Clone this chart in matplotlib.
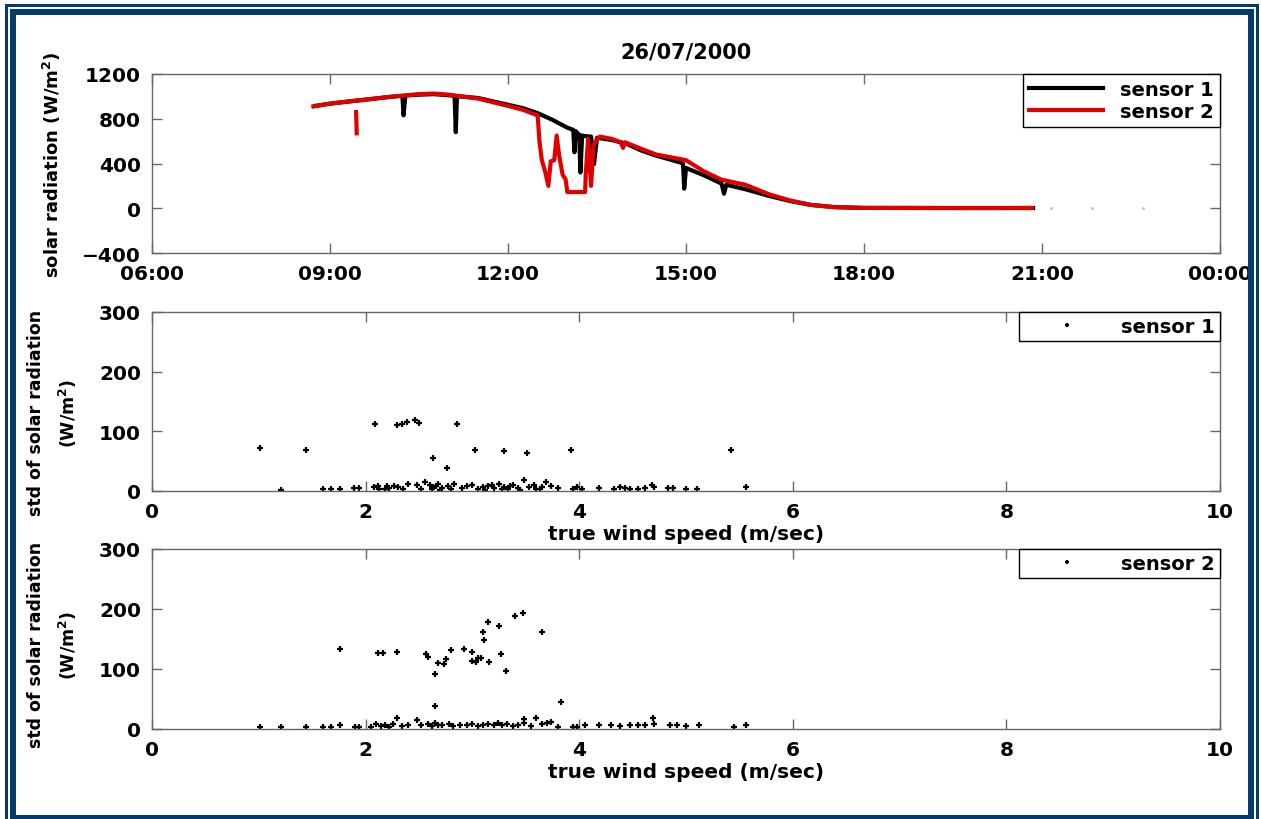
import matplotlib
matplotlib.use("Agg")
import matplotlib.pyplot as plt
from matplotlib.patches import Rectangle
from matplotlib.ticker import FuncFormatter

# --- top panel: solar radiation time series (hours of day, W/m^2) ---
s1_time = [8.75, 9.0, 9.5, 10.0, 10.2, 10.22, 10.24, 10.27, 10.5, 10.75, 11.0, 11.1,
           11.12, 11.14, 11.5, 12.0, 12.25, 12.5, 12.75, 13.0, 13.08, 13.1, 13.12,
           13.14, 13.18, 13.2, 13.22, 13.25, 13.3, 13.4, 13.45, 13.5, 13.75, 14.0,
           14.25, 14.5, 14.9, 14.95, 14.97, 15.0, 15.3, 15.6, 15.64, 15.68, 16.0,
           16.4, 16.75, 17.1, 17.5, 18.0, 19.0, 20.0, 20.85]
s1_vals = [915, 935, 965, 995, 1005, 1002, 830, 1008, 1015, 1020, 1010, 1005,
           680, 1002, 985, 925, 895, 850, 790, 720, 705, 700, 500,
           690, 665, 660, 320, 650, 645, 640, 395, 630, 610, 575,
           515, 470, 410, 400, 175, 360, 295, 220, 130, 210, 170,
           110, 65, 30, 10, 3, 2, 2, 2]

s2_time = [8.72, 9.0, 9.4, 9.5, 10.0, 10.5, 10.75, 11.0, 11.5, 12.0, 12.25, 12.5,
           12.53, 12.57, 12.63, 12.68, 12.72, 12.78, 12.82, 12.86, 12.92, 12.97,
           13.0, 13.3, 13.31, 13.35, 13.4, 13.44, 13.5, 13.55, 13.75, 13.9, 13.94,
           13.97, 14.25, 14.5, 15.0, 15.3, 15.6, 16.0, 16.4, 16.75, 17.1, 17.5,
           18.0, 19.0, 20.0, 20.83]
s2_vals = [910, 935, 960, 965, 995, 1020, 1025, 1015, 980, 915, 880, 830,
           600, 430, 320, 200, 420, 430, 650, 480, 300, 260,
           145, 145, 300, 620, 200, 560, 620, 640, 620, 590, 540,
           590, 530, 480, 430, 330, 255, 210, 125, 70, 30, 10,
           3, 3, 2, 3]

# isolated dim samples after sunset
s1_tail_time = [21.15, 21.85, 22.7]
s1_tail_vals = [0, 0, 0]

s2_cut_time = [9.44, 9.45]
s2_cut_vals = [860, 670]

# --- std of solar radiation vs true wind speed ---
s1_wind = [1.01, 1.44, 1.21, 2.09, 2.29, 2.34, 2.39, 2.46, 2.50, 2.86, 2.63, 2.76,
           3.02, 3.30, 3.51, 3.92, 5.42, 5.56,
           1.60, 1.68, 1.76, 1.89, 1.94, 2.08, 2.13, 2.18, 2.22, 2.27, 2.30, 2.40,
           2.48, 2.56, 2.60, 2.63, 2.66, 2.72, 2.77, 2.83, 2.90, 3.00, 3.05, 3.10,
           3.15, 3.20, 3.25, 3.30, 3.33, 3.38, 3.43, 3.48, 3.53, 3.58, 3.63, 3.69,
           3.74, 3.80, 3.94, 3.98, 4.03, 4.19, 4.33, 4.38, 4.43, 4.48, 4.55, 4.62,
           4.68, 4.70, 4.83, 4.88, 5.00, 5.10, 2.62, 2.68, 2.70, 2.80, 2.95, 3.12,
           3.18, 3.28, 3.35, 2.52, 2.35, 2.20, 2.12, 3.45, 3.60, 3.65]
s1_std = [72, 69, 2, 112, 110, 112, 116, 119, 114, 112, 56, 38,
          68, 67, 64, 68, 68, 6,
          4, 3, 3, 5, 5, 6, 4, 3, 5, 8, 6, 12,
          10, 15, 10, 6, 8, 5, 8, 12, 5, 10, 4, 6,
          8, 5, 12, 6, 3, 10, 5, 18, 6, 10, 4, 15,
          8, 5, 4, 7, 3, 5, 3, 6, 5, 4, 3, 5,
          10, 6, 5, 5, 3, 4, 3, 12, 2, 3, 8, 2,
          10, 3, 8, 4, 3, 8, 9, 2, 3, 7]

s2_wind = [1.76, 2.12, 2.16, 2.29, 2.57, 2.58, 2.68, 2.73, 2.75, 2.65, 2.80, 2.92,
           3.00, 3.00, 3.03, 3.05, 3.08, 3.10, 3.11, 3.15, 3.16, 3.25, 3.27, 3.31,
           3.40, 3.47, 3.65, 2.65, 3.83,
           1.01, 1.21, 1.44, 1.60, 1.68, 1.76, 1.90, 1.94, 2.05, 2.10, 2.14, 2.18,
           2.22, 2.26, 2.29, 2.34, 2.40, 2.48, 2.52, 2.58, 2.62, 2.65, 2.68, 2.72,
           2.78, 2.82, 2.88, 2.95, 3.00, 3.05, 3.10, 3.15, 3.20, 3.24, 3.28, 3.32,
           3.38, 3.43, 3.48, 3.48, 3.55, 3.60, 3.65, 3.70, 3.74, 3.80, 3.94, 3.98,
           4.05, 4.19, 4.30, 4.38, 4.48, 4.55, 4.62, 4.69, 4.70, 4.85, 4.92, 5.00,
           5.12, 5.45, 5.56]
s2_std = [134, 127, 127, 128, 125, 120, 110, 108, 117, 92, 132, 134,
          129, 113, 112, 119, 119, 161, 148, 179, 112, 172, 125, 97,
          189, 193, 161, 38, 45,
          3, 3, 3, 4, 3, 7, 4, 4, 4, 8, 5, 7,
          4, 8, 18, 5, 7, 15, 6, 8, 5, 10, 7, 6,
          9, 5, 7, 6, 9, 5, 7, 8, 6, 10, 7, 9,
          5, 6, 17, 10, 5, 18, 8, 10, 12, 4, 4, 4,
          6, 7, 6, 5, 6, 7, 6, 18, 8, 7, 6, 5,
          6, 4, 7]

time_ticks = [6, 9, 12, 15, 18, 21, 24]
wind_ticks = [0, 2, 4, 6, 8, 10]

W, H = 1261, 820
navy = "#063a6e"
spine_gray = "#666666"

plt.rcParams["font.family"] = "DejaVu Sans"
plt.rcParams["font.weight"] = "bold"
plt.rcParams["axes.labelweight"] = "bold"
plt.rcParams["mathtext.default"] = "bf"

fig = plt.figure(figsize=(W / 100, H / 100), dpi=100)
fig.patch.set_facecolor("white")


def style_axes(ax):
    for s in ax.spines.values():
        s.set_color(spine_gray)
        s.set_linewidth(1.0)
    ax.tick_params(direction="in", length=7, width=1, colors=spine_gray,
                   top=True, right=True, labelsize=14.5, pad=8)
    for lab in ax.get_xticklabels() + ax.get_yticklabels():
        lab.set_color("black")
        lab.set_fontweight("bold")


# top panel
ax1 = fig.add_axes([152 / W, 1 - 254 / H, (1220 - 152) / W, (254 - 75) / H])
ax1.plot(s1_time, s1_vals, color="black", lw=3, label="sensor 1")
ax1.plot(s2_time, s2_vals, color="#e00000", lw=3, label="sensor 2")
ax1.plot(s2_cut_time, s2_cut_vals, color="#e00000", lw=3)
ax1.plot(s1_tail_time, s1_tail_vals, ls="none", marker=".", ms=2, color="#bbbbbb")
ax1.set_xlim(6, 24)
ax1.set_ylim(-400, 1200)
ax1.set_xticks(time_ticks)
ax1.set_yticks([-400, 0, 400, 800, 1200])
ax1.xaxis.set_major_formatter(FuncFormatter(lambda v, p: "%02d:00" % (int(v) % 24)))
ax1.set_ylabel("solar radiation (W/m$^2$)", fontsize=13)
ax1.yaxis.set_label_coords(-0.083, 0.5)
ax1.set_title("26/07/2000", fontsize=15, fontweight="bold", pad=12)
style_axes(ax1)
leg = ax1.legend(loc="upper right", bbox_to_anchor=(1, 1), borderaxespad=0,
                 fontsize=14, handlelength=3.8, handletextpad=0.9, borderpad=0.3,
                 labelspacing=0.15, fancybox=False, framealpha=1)
leg.get_frame().set_edgecolor("black")
leg.get_frame().set_linewidth(1)

# scatter panels
panels = [(492, 313, s1_wind, s1_std, "sensor 1", 0.44),
          (730, 550, s2_wind, s2_std, "sensor 2", 0.47)]
for ybot, ytop, xs, ys, name, ly in panels:
    ax = fig.add_axes([152 / W, 1 - ybot / H, (1220 - 152) / W, (ybot - ytop) / H])
    ax.plot(xs, ys, ls="none", marker="+", ms=5, mew=1.6, color="black", label=name)
    ax.set_xlim(0, 10)
    ax.set_ylim(0, 300)
    ax.set_xticks(wind_ticks)
    ax.set_yticks([0, 100, 200, 300])
    ax.set_xlabel("true wind speed (m/sec)", fontsize=14.5, labelpad=2)
    ax.set_ylabel("std of solar radiation\n(W/m$^2$)", fontsize=12.5, linespacing=1.7)
    ax.yaxis.set_label_coords(-0.068, ly)
    style_axes(ax)
    lg = ax.legend(loc="upper right", bbox_to_anchor=(1, 1), borderaxespad=0,
                   fontsize=14, numpoints=1, markerscale=0.7, handlelength=4.4,
                   handletextpad=0.6, borderpad=0.25, fancybox=False, framealpha=1)
    lg.get_frame().set_edgecolor("black")
    lg.get_frame().set_linewidth(1)


# double navy frame around the whole picture
def band(x0, y0, x1, y1):
    fig.add_artist(Rectangle((x0 / W, 1 - y1 / H), (x1 - x0) / W, (y1 - y0) / H,
                             transform=fig.transFigure, color=navy, lw=0, zorder=20))


band(5, 5, 8, H)
band(5, 5, 1259, 8)
band(1256, 5, 1259, H)
band(10, 10, 16, 816)
band(10, 10, 1254, 16)
band(1248, 10, 1254, 816)
band(10, 816, 1254, H)

fig.savefig("out.png", dpi=100)
